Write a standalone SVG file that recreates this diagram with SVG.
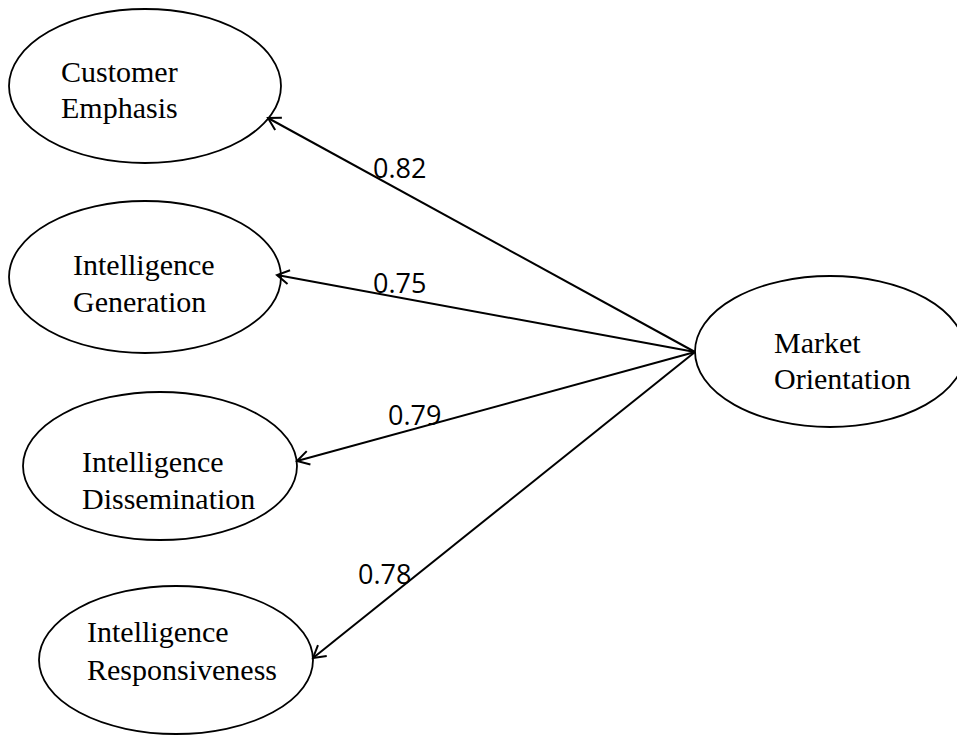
<svg xmlns="http://www.w3.org/2000/svg" width="957" height="736" viewBox="0 0 957 736">
<style>
.node ellipse{fill:#fff;stroke:#000;stroke-width:1.8}
.node text{font-family:"Liberation Serif","Times New Roman",serif;font-size:30px;fill:#000}
.conn line{stroke:#000;stroke-width:2}
.lbl{font-family:"Open Sans","Noto Sans",sans-serif;font-size:27px;fill:#000}
</style>
<defs>
<marker id="arr" markerUnits="userSpaceOnUse" markerWidth="30" markerHeight="30" viewBox="-15 -15 30 30" refX="0" refY="0" orient="auto">
<path d="M-12,-7 L0,0 L-12,7" fill="none" stroke="#000" stroke-width="2"/>
</marker>
</defs>
<rect width="957" height="736" fill="#fff"/>
<g id="customer-emphasis" class="node">
<ellipse cx="145" cy="86" rx="136" ry="77"/>
<text x="61" y="82">Customer</text>
<text x="61" y="118">Emphasis</text>
</g>
<g id="intelligence-generation" class="node">
<ellipse cx="145" cy="277" rx="136" ry="76"/>
<text x="73" y="275">Intelligence</text>
<text x="73" y="312">Generation</text>
</g>
<g id="intelligence-dissemination" class="node">
<ellipse cx="160" cy="466" rx="137" ry="74"/>
<text x="82" y="472">Intelligence</text>
<text x="82" y="509">Dissemination</text>
</g>
<g id="intelligence-responsiveness" class="node">
<ellipse cx="176" cy="660" rx="137" ry="74"/>
<text x="87" y="642">Intelligence</text>
<text x="87" y="680">Responsiveness</text>
</g>
<g id="market-orientation" class="node">
<ellipse cx="830" cy="351.5" rx="135" ry="75.5"/>
<text x="774" y="353">Market</text>
<text x="774" y="389">Orientation</text>
</g>
<g id="connectors" class="conn">
<line x1="695" y1="352" x2="268" y2="118" marker-end="url(#arr)"/>
<line x1="695" y1="352" x2="277" y2="275" marker-end="url(#arr)"/>
<line x1="695" y1="352" x2="297" y2="461" marker-end="url(#arr)"/>
<line x1="695" y1="352" x2="313" y2="658" marker-end="url(#arr)"/>
<text class="lbl" x="373" y="178">0.82</text>
<text class="lbl" x="373" y="293">0.75</text>
<text class="lbl" x="388" y="425">0.79</text>
<text class="lbl" x="358" y="584">0.78</text>
</g>
</svg>
